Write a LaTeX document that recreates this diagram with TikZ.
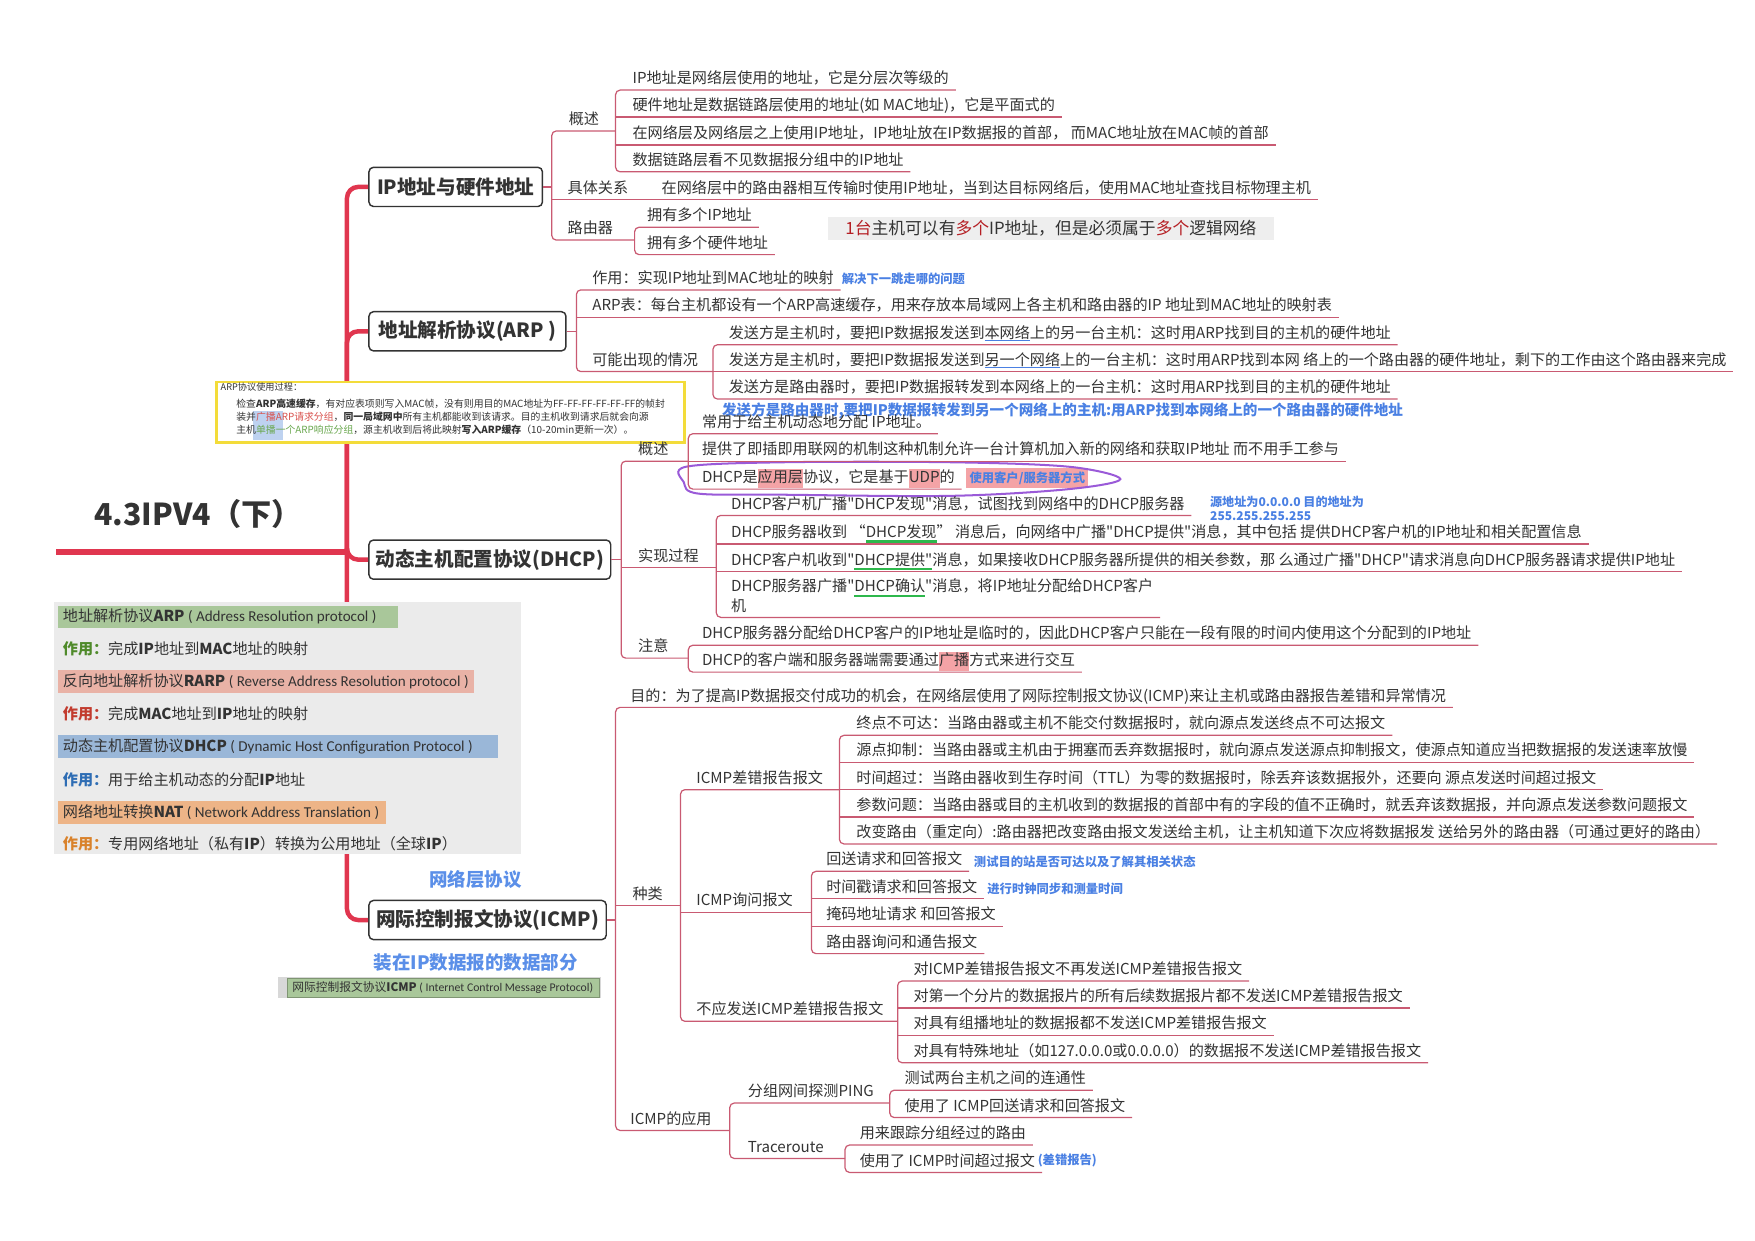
\documentclass[tikz,border=0pt]{standalone}
\usepackage{fontspec}
\setmainfont{Noto Sans CJK SC}[Ligatures=TeXOff]
\newfontfamily\calfont{Carlito}
\definecolor{ink}{HTML}{333333}
\definecolor{spinered}{HTML}{E0364F}
\definecolor{branchred}{HTML}{C95A72}
\definecolor{tagblue}{HTML}{4A80E3}
\definecolor{labelblue}{HTML}{5B8FE8}
\definecolor{hlpink}{HTML}{F4A3A6}
\definecolor{hlgreen}{HTML}{2DB84C}
\definecolor{ringpurple}{HTML}{9A5AD8}
\definecolor{panelgray}{HTML}{EBEBEB}
\definecolor{bargreen}{HTML}{A9C79A}
\definecolor{barpink}{HTML}{E9B2A6}
\definecolor{barblue}{HTML}{9AB7D8}
\definecolor{barorange}{HTML}{EDB487}
\definecolor{usegreen}{HTML}{4F8A2A}
\definecolor{usered}{HTML}{C23B2E}
\definecolor{useblue}{HTML}{2E6DB4}
\definecolor{useorange}{HTML}{D9822B}
\definecolor{notegray}{HTML}{EEEEEE}
\definecolor{notered}{HTML}{B51F24}
\definecolor{noteyellow}{HTML}{F3DC3A}
\definecolor{selblue}{HTML}{7FA6E2}
\definecolor{arpred}{HTML}{D9534F}
\definecolor{arpgreen}{HTML}{6AA84F}
\newcommand\leaffont{\fontsize{13.5}{17}\selectfont}
\newcommand\tagfont{\bfseries\fontsize{11}{13}\selectfont}
\newsavebox\markbox
\newcommand\hlp[1]{{\setlength{\fboxsep}{0pt}\colorbox{hlpink}{\strut#1}}}
\newcommand\gul[1]{\sbox\markbox{#1}\rlap{\textcolor{hlgreen}{\rule[-4.5pt]{\wd\markbox}{2.2pt}}}\usebox\markbox}
\newcommand\bul[1]{\sbox\markbox{#1}\rlap{\textcolor{tagblue}{\rule[-2.6pt]{\wd\markbox}{1.3pt}}}\usebox\markbox}

\begin{document}
\begin{tikzpicture}[x=1pt,y=-1pt,
  spine/.style={draw=spinered,line width=4pt,rounded corners=10pt},
  branch/.style={draw=branchred,line width=1.1pt,rounded corners=4pt},
  topic/.style={draw=ink,line width=1.3pt,rounded corners=4pt,fill=white,anchor=west,
    minimum height=35pt,inner xsep=6pt,text=ink,font=\bfseries\fontsize{17.5}{20}\selectfont},
  leaf/.style={anchor=south west,inner xsep=0pt,inner ysep=3.5pt,text height=11.5pt,
    text depth=2pt,text=ink,font=\leaffont},
  tag/.style={anchor=west,inner sep=1pt,text=tagblue,font=\tagfont},
  bar/.style={anchor=west,inner xsep=4pt,inner ysep=0pt,minimum height=20pt,text=ink,
    font=\fontsize{13.5}{16}\selectfont},
  use/.style={anchor=west,inner sep=0pt,text=ink,font=\fontsize{13.5}{16}\selectfont},
  bluelabel/.style={text=labelblue,font=\bfseries\fontsize{16.5}{19}\selectfont},
]
\useasboundingbox (0,0) rectangle (1568,1108);

% root and main topics
\node[text=ink,font=\bfseries\fontsize{27}{30}\selectfont] (root) at (177,459) {4.3IPV4（下）};
\coordinate (hub) at (310,493);
\node[topic,minimum width=155pt] (ipn) at (329,167) {IP地址与硬件地址};
\node[topic,minimum width=176pt] (arpn) at (329,296) {地址解析协议(ARP )};
\node[topic,minimum width=216pt] (dhn) at (329,500) {动态主机配置协议(DHCP)};
\node[topic,minimum width=212pt] (icn) at (329,822) {网际控制报文协议(ICMP)};
\draw[spine,line width=5pt] (hub) -- (50,493);
\foreach \n in {ipn,arpn,dhn,icn} \draw[spine] (hub) |- (\n.west);

% left summary panel
\node[fill=panelgray,minimum width=417pt,minimum height=225pt,anchor=north west,inner sep=0pt] (panel) at (48,538) {};
\node[bar,fill=bargreen] (pbar1) at (52,551) {\makebox[295pt][l]{地址解析协议\textbf{ARP}{\calfont\ ( Address Resolution protocol )}}};
\node[use] (puse1) at (56,580) {\textcolor{usegreen}{\textbf{作用：}}完成\textbf{IP}地址到\textbf{MAC}地址的映射};
\node[bar,fill=barpink] (pbar2) at (52,609) {\makebox[363pt][l]{反向地址解析协议\textbf{RARP}{\calfont\ ( Reverse Address Resolution protocol )}}};
\node[use] (puse2) at (56,638) {\textcolor{usered}{\textbf{作用：}}完成\textbf{MAC}地址到\textbf{IP}地址的映射};
\node[bar,fill=barblue] (pbar3) at (52,667) {\makebox[385pt][l]{动态主机配置协议\textbf{DHCP}{\calfont\ ( Dynamic Host Configuration Protocol )}}};
\node[use] (puse3) at (56,697) {\textcolor{useblue}{\textbf{作用：}}用于给主机动态的分配\textbf{IP}地址};
\node[bar,fill=barorange] (pbar4) at (52,726) {\makebox[285pt][l]{网络地址转换\textbf{NAT}{\calfont\ ( Network Address Translation )}}};
\node[use] (puse4) at (56,754) {\textcolor{useorange}{\textbf{作用：}}专用网络地址（私有\textbf{IP}）转换为公用地址（全球\textbf{IP}）};

\node[bluelabel] (netlayer) at (425,786) {网络层协议};
\node[bluelabel] (inip) at (425,860) {装在IP数据报的数据部分};
\node[fill=panelgray!92!black,minimum width=289pt,minimum height=19pt,anchor=west,inner sep=0pt] (icstrip) at (248,882.5) {};
\node[draw=bargreen!75!black,fill=bargreen,line width=0.6pt,anchor=west,minimum height=17pt,inner xsep=5pt,
  inner ysep=0pt,text=ink,font=\fontsize{10.5}{12}\selectfont] (icbar) at (256,882.5)
  {\makebox[269pt][l]{网际控制报文协议\textbf{ICMP}{\calfont\ ( Internet Control Message Protocol)}}};

% IP地址与硬件地址
\coordinate (ipj) at (493,167);
\node[leaf] (ipgs) at (508,117) {概述};
\coordinate (ipgsj) at (550,117);
\foreach \n/\y/\txt in {ipa/80.5/{IP地址是网络层使用的地址，它是分层次等级的},
    ipb/104.5/{硬件地址是数据链路层使用的地址(如 MAC地址)，它是平面式的},
    ipc/129.5/{在网络层及网络层之上使用IP地址，IP地址放在IP数据报的首部， 而MAC地址放在MAC帧的首部},
    ipd/153.5/{数据链路层看不见数据报分组中的IP地址}}
  \node[leaf] (\n) at (565,\y) {\txt};
\node[leaf] (ipgx) at (507,178.5) {具体关系};
\node[leaf] (ipe) at (591,178.5) {在网络层中的路由器相互传输时使用IP地址，当到达目标网络后，使用MAC地址查找目标物理主机};
\node[leaf] (iply) at (507,214.5) {路由器};
\coordinate (iplyj) at (567,214.5);
\node[leaf] (ipg) at (578,203) {拥有多个IP地址};
\node[leaf] (iph) at (578,227.5) {拥有多个硬件地址};
\node[fill=notegray,minimum width=398pt,minimum height=20pt,inner sep=0pt,text=ink,
  font=\fontsize{15}{18}\selectfont] (ipnote) at (939,204)
  {\textcolor{notered}{1台}主机可以有\textcolor{notered}{多个}IP地址，但是必须属于\textcolor{notered}{多个}逻辑网络};
\draw[branch] (ipn.east) -- (ipj);
\draw[branch] (ipgsj) -- (ipj |- ipgs.south) -- (ipj |- iply.south) -- (iplyj);
\draw[branch] (ipj |- ipgx.south) -- ([xshift=6pt]ipe.south east);
\draw[branch] ([xshift=6pt]ipa.south east) -- (ipgsj |- ipa.south) -- (ipgsj |- ipd.south) -- ([xshift=6pt]ipd.south east);
\foreach \n in {ipb,ipc} \draw[branch] (ipgsj |- \n.south) -- ([xshift=6pt]\n.south east);
\draw[branch] ([xshift=6pt]ipg.south east) -- (iplyj |- ipg.south) -- (iplyj |- iph.south) -- ([xshift=6pt]iph.south east);

% 地址解析协议
\coordinate (arpj) at (515,296);
\node[leaf] (arpa) at (529,259) {作用：实现IP地址到MAC地址的映射};
\node[leaf] (arpb) at (529,283.5) {ARP表：每台主机都设有一个ARP高速缓存，用来存放本局域网上各主机和路由器的IP 地址到MAC地址的映射表};
\node[leaf] (arpc) at (529,332) {可能出现的情况};
\coordinate (arpcj) at (637,332);
\foreach \n/\y/\txt in {arpc1/308/{发送方是主机时，要把IP数据报发送到\bul{本网络}上的另一台主机：这时用ARP找到目的主机的硬件地址},
    arpc2/332/{发送方是主机时，要把IP数据报发送到\bul{另一个网络}上的一台主机：这时用ARP找到本网 络上的一个路由器的硬件地址，剩下的工作由这个路由器来完成},
    arpc3/356.5/{发送方是路由器时，要把IP数据报转发到本网络上的一台主机：这时用ARP找到目的主机的硬件地址}}
  \node[leaf] (\n) at (651,\y) {\txt};
\node[tag] (arptag) at (751,249) {解决下一跳走哪的问题};
\node[tag,font=\bfseries\fontsize{13}{15}\selectfont] (arptip) at (644,367)
  {发送方是路由器时,要把IP数据报转发到另一个网络上的主机:用ARP找到本网络上的一个路由器的硬件地址};
\draw[branch] (arpn.east) -- (arpj);
\draw[branch] ([xshift=6pt]arpa.south east) -- (arpj |- arpa.south) -- (arpj |- arpc.south) -- (arpcj);
\draw[branch] (arpj |- arpb.south) -- ([xshift=6pt]arpb.south east);
\draw[branch] ([xshift=6pt]arpc1.south east) -- (arpcj |- arpc1.south) -- (arpcj |- arpc3.south) -- ([xshift=6pt]arpc3.south east);
\draw[branch] (arpcj |- arpc2.south) -- ([xshift=6pt]arpc2.south east);

% ARP process note
\node[draw=noteyellow,line width=2.5pt,fill=white,minimum width=418pt,minimum height=54pt,
  anchor=north west,inner sep=0pt] (arpbox) at (192,340) {};
\fill[selblue,opacity=0.5] (226,367) rectangle (253,393);
\node[anchor=west,inner sep=0pt,text=ink,font=\fontsize{8.2}{10}\selectfont] (arphead) at (197,346) {ARP协议使用过程：};
\node[anchor=north west,inner sep=0pt,align=left,text=ink,font=\fontsize{8.8}{11.6}\selectfont] (arpsteps) at (211,356)
  {检查\textbf{ARP高速缓存}，有对应表项则写入MAC帧，没有则用目的MAC地址为FF-FF-FF-FF-FF-FF的帧封\\
   装并\textcolor{arpred}{广播ARP请求分组}，\textbf{同一局域网中}所有主机都能收到该请求。目的主机收到请求后就会向源\\
   主机\textcolor{arpgreen}{单播一个ARP响应分组}，源主机收到后将此映射\textbf{写入ARP缓存}（10-20min更新一次）。};

% 动态主机配置协议
\coordinate (dhj) at (555,500);
\node[leaf] (dhgs) at (570,412) {概述};
\coordinate (dhgsj) at (615,412);
\foreach \n/\y/\txt in {dha/387.5/{常用于给主机动态地分配 IP地址。},
    dhb/412/{提供了即插即用联网的机制这种机制允许一台计算机加入新的网络和获取IP地址 而不用手工参与},
    dhc/437/{DHCP是\hlp{应用层}协议，它是基于\hlp{UDP}的}}
  \node[leaf] (\n) at (627,\y) {\txt};
\node[tag,fill=hlpink,inner xsep=3pt,inner ysep=3pt] (dhtag) at (863,427) {使用客户/服务器方式};
\draw[ringpurple,line width=1.8pt] plot[smooth cycle,tension=0.55] coordinates
  {(613,417) (700,413) (850,413) (955,417) (1001,428) (955,437) (850,443) (700,442) (624,441) (611,431)};
\node[leaf] (dhsx) at (570,507) {实现过程};
\coordinate (dhsxj) at (640,507);
\foreach \n/\y/\txt in {dhp1/460.5/{DHCP客户机广播"DHCP发现"消息，试图找到网络中的DHCP服务器},
    dhp2/486/{DHCP服务器收到 “\gul{DHCP发现}” 消息后，向网络中广播"DHCP提供"消息，其中包括 提供DHCP客户机的IP地址和相关配置信息},
    dhp3/510.5/{DHCP客户机收到"\gul{DHCP提供"}消息，如果接收DHCP服务器所提供的相关参数，那 么通过广播"DHCP"请求消息向DHCP服务器请求提供IP地址},
    dhp4/534.6/{DHCP服务器广播"\gul{DHCP确认}"消息，将IP地址分配给DHCP客户},
    dhp4b/551.6/{机}}
  \node[leaf] (\n) at (653,\y) {\txt};
\node[tag,align=left,anchor=north west,font=\bfseries\fontsize{10.8}{13}\selectfont] (dhptag) at (1080,442)
  {源地址为0.0.0.0 目的地址为\\255.255.255.255};
\node[leaf] (dhzy) at (570,588) {注意};
\coordinate (dhzyj) at (615,588);
\node[leaf] (dhz1) at (627,576.5) {DHCP服务器分配给DHCP客户的IP地址是临时的，因此DHCP客户只能在一段有限的时间内使用这个分配到的IP地址};
\node[leaf] (dhz2) at (627,600.5) {DHCP的客户端和服务器端需要通过\hlp{广播}方式来进行交互};
\draw[branch] (dhn.east) -- (dhj);
\draw[branch] (dhgsj) -- (dhj |- dhgs.south) -- (dhj |- dhzy.south) -- (dhzyj);
\draw[branch] (dhj |- dhsx.south) -- (dhsxj);
\draw[branch] ([xshift=6pt]dha.south east) -- (dhgsj |- dha.south) -- (dhgsj |- dhc.south) -- ([xshift=6pt]dhc.south east);
\draw[branch] (dhgsj |- dhb.south) -- ([xshift=6pt]dhb.south east);
\draw[branch] ([xshift=6pt]dhp1.south east) -- (dhsxj |- dhp1.south) -- (dhsxj |- dhp4b.south) -- ([xshift=6pt]dhp4.east |- dhp4b.south);
\foreach \n in {dhp2,dhp3} \draw[branch] (dhsxj |- \n.south) -- ([xshift=6pt]\n.south east);
\draw[branch] ([xshift=6pt]dhz1.south east) -- (dhzyj |- dhz1.south) -- (dhzyj |- dhz2.south) -- ([xshift=6pt]dhz2.south east);

% 网际控制报文协议
\coordinate (icj) at (550,822);
\node[leaf] (icmd) at (563,632) {目的：为了提高IP数据报交付成功的机会，在网络层使用了网际控制报文协议(ICMP)来让主机或路由器报告差错和异常情况};
\node[leaf] (iczl) at (565,809) {种类};
\coordinate (iczlj) at (608,809);
\node[leaf] (icce) at (622,705.5) {ICMP差错报告报文};
\coordinate (iccej) at (750,705.5);
\foreach \n/\y/\txt in {icc1/657/{终点不可达：当路由器或主机不能交付数据报时，就向源点发送终点不可达报文},
    icc2/681/{源点抑制：当路由器或主机由于拥塞而丢弃数据报时，就向源点发送源点抑制报文，使源点知道应当把数据报的发送速率放慢},
    icc3/705.5/{时间超过：当路由器收到生存时间（TTL）为零的数据报时，除丢弃该数据报外，还要向 源点发送时间超过报文},
    icc4/730/{参数问题：当路由器或目的主机收到的数据报的首部中有的字段的值不正确时，就丢弃该数据报，并向源点发送参数问题报文},
    icc5/754/{改变路由（重定向）:路由器把改变路由报文发送给主机，让主机知道下次应将数据报发 送给另外的路由器（可通过更好的路由）}}
  \node[leaf] (\n) at (765,\y) {\txt};
\node[leaf] (icxw) at (622,815) {ICMP询问报文};
\coordinate (icxwj) at (725,815);
\foreach \n/\y/\txt in {icx1/778.5/{回送请求和回答报文},icx2/803/{时间戳请求和回答报文},
    icx3/827.5/{掩码地址请求 和回答报文},icx4/852/{路由器询问和通告报文}}
  \node[leaf] (\n) at (738,\y) {\txt};
\node[tag] (icxtag1) at (869,770) {测试目的站是否可达以及了解其相关状态};
\node[tag] (icxtag2) at (881,794) {进行时钟同步和测量时间};
\node[leaf] (icbf) at (622,912.5) {不应发送ICMP差错报告报文};
\coordinate (icbfj) at (802,912.5);
\foreach \n/\y/\txt in {icb1/876.5/{对ICMP差错报告报文不再发送ICMP差错报告报文},
    icb2/900.5/{对第一个分片的数据报片的所有后续数据报片都不发送ICMP差错报告报文},
    icb3/925/{对具有组播地址的数据报都不发送ICMP差错报告报文},
    icb4/949.5/{对具有特殊地址（如127.0.0.0或0.0.0.0）的数据报不发送ICMP差错报告报文}}
  \node[leaf] (\n) at (816,\y) {\txt};
\node[leaf] (icyy) at (563,1010) {ICMP的应用};
\coordinate (icyyj) at (652,1010);
\node[leaf] (icpg) at (668,985.5) {分组网间探测PING};
\coordinate (icpgj) at (795,985.5);
\node[leaf] (icg1) at (808,974) {测试两台主机之间的连通性};
\node[leaf] (icg2) at (808,998.5) {使用了 ICMP回送请求和回答报文};
\node[leaf] (ictr) at (668,1035) {Traceroute};
\coordinate (ictrj) at (755,1035);
\node[leaf] (ict1) at (768,1023) {用来跟踪分组经过的路由};
\node[leaf] (ict2) at (768,1047.5) {使用了 ICMP时间超过报文};
\node[tag] (icttag) at (926,1037) {(差错报告)};
\draw[branch] (icn.east) -- (icj);
\draw[branch] ([xshift=6pt]icmd.south east) -- (icj |- icmd.south) -- (icj |- icyy.south) -- (icyyj);
\draw[branch] (icj |- iczl.south) -- (iczlj);
\draw[branch] (iccej) -- (iczlj |- icce.south) -- (iczlj |- icbf.south) -- (icbfj);
\draw[branch] (iczlj |- icxw.south) -- (icxwj);
\draw[branch] ([xshift=6pt]icc1.south east) -- (iccej |- icc1.south) -- (iccej |- icc5.south) -- ([xshift=6pt]icc5.south east);
\foreach \n in {icc2,icc3,icc4} \draw[branch] (iccej |- \n.south) -- ([xshift=6pt]\n.south east);
\draw[branch] ([xshift=6pt]icx1.south east) -- (icxwj |- icx1.south) -- (icxwj |- icx4.south) -- ([xshift=6pt]icx4.south east);
\foreach \n in {icx2,icx3} \draw[branch] (icxwj |- \n.south) -- ([xshift=6pt]\n.south east);
\draw[branch] ([xshift=6pt]icb1.south east) -- (icbfj |- icb1.south) -- (icbfj |- icb4.south) -- ([xshift=6pt]icb4.south east);
\foreach \n in {icb2,icb3} \draw[branch] (icbfj |- \n.south) -- ([xshift=6pt]\n.south east);
\draw[branch] (icpgj) -- (icyyj |- icpg.south) -- (icyyj |- ictr.south) -- (ictrj);
\draw[branch] ([xshift=6pt]icg1.south east) -- (icpgj |- icg1.south) -- (icpgj |- icg2.south) -- ([xshift=6pt]icg2.south east);
\draw[branch] ([xshift=6pt]ict1.south east) -- (ictrj |- ict1.south) -- (ictrj |- ict2.south) -- ([xshift=6pt]ict2.south east);
\end{tikzpicture}
\end{document}
